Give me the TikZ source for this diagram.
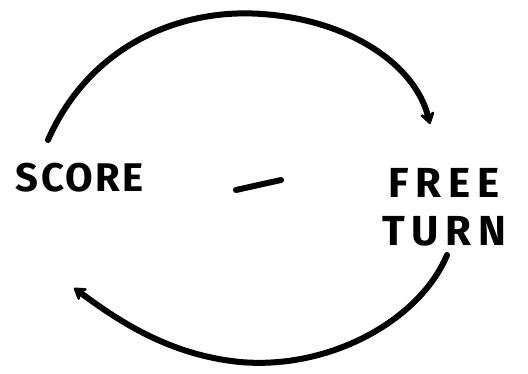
\documentclass[tikz,border=0pt]{standalone}
\usepackage{fontspec}
\setmainfont{Fira Sans}
\usetikzlibrary{arrows.meta,calc}
\begin{document}
\begin{tikzpicture}[x=1pt,y=-1pt,
  ink/.style={line width=6pt,line cap=round,line join=round,black},
  arr/.style={ink,-{Stealth[length=14pt,width=18pt,round]}},
  word/.style={inner sep=0pt,align=center}]
\useasboundingbox (0,0) rectangle (528,374);
\node[word,font=\fontsize{40}{40}\selectfont\bfseries\addfontfeature{LetterSpace=6}] (score) at (80,178) {SCORE};
\node[word,font=\fontsize{42}{48}\selectfont\bfseries\addfontfeature{LetterSpace=16}] (free) at (444,207) {FREE\\TURN};
\coordinate (m1) at (236,190);
\coordinate (m2) at (281,180);
\draw[ink] (m1) -- (m2);
\coordinate (topstart) at (48,140);
\coordinate (topend) at (430,124);
\coordinate (botstart) at (447,255);
\coordinate (botend) at (74,288);
\draw[arr] (topstart) .. controls (90,45) and (180,8) .. (262,14)
  .. controls (350,20) and (415,65) .. (topend);
\draw[arr] (botstart) .. controls (420,320) and (330,370) .. (240,362)
  .. controls (170,355) and (120,322) .. (botend);
\end{tikzpicture}
\end{document}
